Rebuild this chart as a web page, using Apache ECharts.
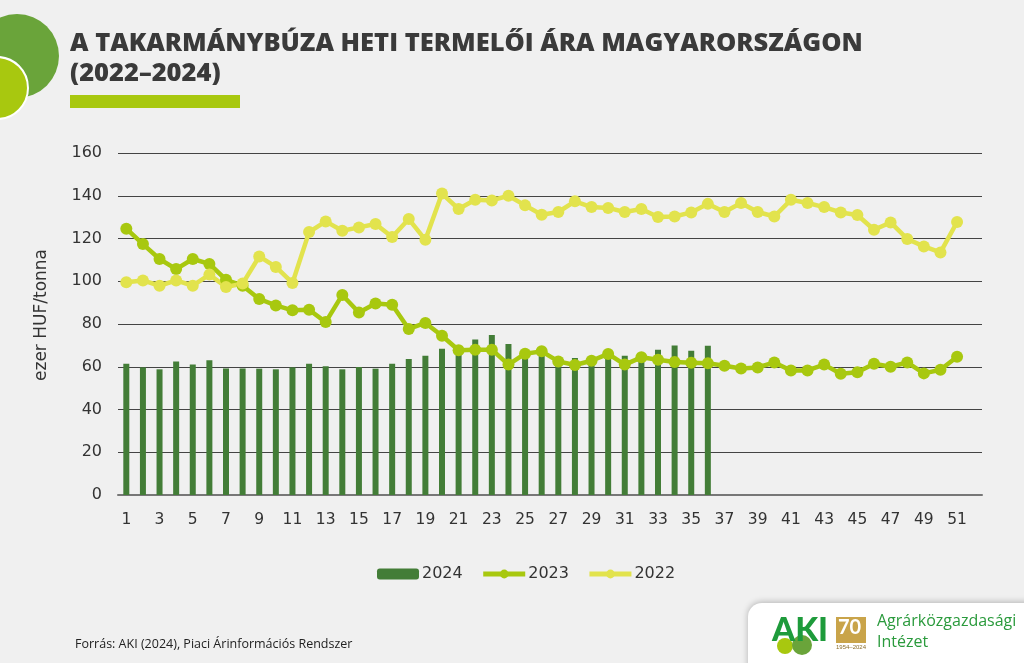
<!DOCTYPE html>
<html>
<head>
<meta charset="utf-8">
<script src="https://cdn.jsdelivr.net/npm/echarts@6/dist/echarts.min.js"></script>
<style>
    html, body { margin: 0; padding: 0; background: #f0f0f0; }
    #chart { width: 1024px; height: 663px; }
</style>
</head>
<body>
<div id="chart"></div>
<script>
// weeks 1..52
let weeks = [];
for (let i = 1; i <= 52; i++) weeks.push(String(i));

let bars2024 = [61.4, 59.7, 58.8, 62.4, 61.0, 63.0, 59.2, 59.2, 59.1, 58.8,
    59.7, 61.4, 60.2, 58.8, 59.9, 59.1, 61.4, 63.6, 65.2, 68.4,
    67.0, 72.7, 74.9, 70.6, 65.0, 66.0, 63.0, 64.1, 62.0, 64.0,
    65.2, 63.0, 68.0, 69.9, 67.5, 69.8];

let line2023 = [124.6, 117.4, 110.4, 105.7, 110.4, 108.1, 100.7, 97.9, 91.7, 88.7,
    86.4, 86.7, 80.9, 93.6, 85.4, 89.6, 89.0, 77.7, 80.5, 74.5,
    67.7, 68.0, 68.0, 61.0, 66.1, 67.2, 62.5, 60.8, 62.8, 66.0,
    61.0, 64.4, 63.3, 62.2, 61.9, 61.6, 60.5, 59.2, 59.7, 62.0,
    58.2, 58.3, 61.0, 56.7, 57.4, 61.4, 60.0, 62.0, 56.9, 58.6,
    64.7];

let line2022 = [99.5, 100.4, 97.9, 100.4, 97.9, 103.1, 97.3, 98.9, 111.6, 106.7,
    99.2, 123.0, 128.0, 123.6, 125.2, 126.8, 120.7, 129.1, 119.4, 141.0,
    133.8, 138.1, 137.8, 140.0, 135.5, 131.1, 132.4, 137.4, 134.7, 134.3,
    132.4, 133.8, 130.1, 130.3, 132.2, 136.2, 132.4, 136.6, 132.4, 130.3,
    138.1, 136.6, 134.7, 132.2, 131.0, 124.1, 127.5, 119.8, 116.3, 113.5,
    127.7];

let chart = echarts.init(document.getElementById("chart"));

let labelFont = "'DejaVu Sans', sans-serif";

let option = {
    backgroundColor: "#f0f0f0",
    animation: false,
    color: ["#437d37", "#a8c80f", "#e2e34d"],
    grid: {
        left: 118,
        right: 42,
        top: 153,
        bottom: 168,
    },
    legend: {
        bottom: 76,
        left: 372,
        itemGap: 18,
        itemWidth: 42,
        itemHeight: 11,
        lineStyle: { width: 5 },
        textStyle: {
            fontFamily: labelFont,
            fontSize: 16,
            color: "#333",
            padding: [0, 0, 0, -2],
        },
        data: ["2024", "2023", "2022"],
    },
    xAxis: {
        type: "category",
        data: weeks,
        axisLine: {
            lineStyle: { color: "#777", width: 2 },
        },
        axisTick: { show: false },
        axisLabel: {
            interval: 1,
            color: "#333",
            fontFamily: labelFont,
            fontSize: 15.5,
            margin: 17,
        },
    },
    yAxis: {
        type: "value",
        min: 0,
        max: 160,
        interval: 20,
        name: "ezer HUF/tonna",
        nameLocation: "middle",
        nameGap: 68,
        nameTextStyle: {
            fontFamily: labelFont,
            fontSize: 17,
            color: "#333",
            padding: [0, 0, 0, 18],
        },
        axisLine: { show: false },
        axisTick: { show: false },
        axisLabel: {
            color: "#333",
            fontFamily: labelFont,
            fontSize: 16,
            margin: 16,
        },
        splitLine: {
            lineStyle: { color: "#444", width: 1 },
        },
    },
    series: [
        {
            name: "2024",
            type: "bar",
            data: bars2024,
            barWidth: 6,
            itemStyle: { color: "#437d37" },
        },
        {
            name: "2023",
            type: "line",
            data: line2023,
            symbol: "circle",
            symbolSize: 12,
            showAllSymbol: true,
            lineStyle: { width: 4.5, color: "#a8c80f" },
            itemStyle: { color: "#a8c80f" },
        },
        {
            name: "2022",
            type: "line",
            data: line2022,
            symbol: "circle",
            symbolSize: 12,
            showAllSymbol: true,
            lineStyle: { width: 4.5, color: "#e2e34d" },
            itemStyle: { color: "#e2e34d" },
        },
    ],
    graphic: [
        // corner circles
        { type: "circle", shape: { cx: 17, cy: 56, r: 42 }, style: { fill: "#6aa43a" }, z: 1 },
        { type: "circle", shape: { cx: -3, cy: 88, r: 31 }, style: { fill: "#a8c80f", stroke: "#ffffff", lineWidth: 2 }, z: 2 },
        // title
        {
            type: "text", left: 70, top: 29, z: 3,
            style: {
                text: "A TAKARMÁNYBÚZA HETI TERMELŐI ÁRA MAGYARORSZÁGON\n(2022–2024)",
                fill: "#3a3a3a",
                font: "800 25.5px 'Open Sans', sans-serif",
                lineHeight: 30,
            },
        },
        { type: "rect", shape: { x: 70, y: 95, width: 170, height: 13 }, style: { fill: "#a8c80f" }, z: 3 },
        // source
        {
            type: "text", left: 75, top: 638, z: 3,
            style: {
                text: "Forrás: AKI (2024), Piaci Árinformációs Rendszer",
                fill: "#222",
                font: "12.5px 'Open Sans', sans-serif",
            },
        },
        // logo panel
        {
            type: "rect", z: 3,
            shape: { x: 748, y: 603, width: 290, height: 70, r: [14, 0, 0, 0] },
            style: { fill: "#ffffff", shadowBlur: 6, shadowColor: "rgba(0,0,0,0.25)", shadowOffsetY: -1 },
        },
        { type: "circle", z: 4, shape: { cx: 785, cy: 646, r: 8 }, style: { fill: "#a8c80f" } },
        { type: "circle", z: 4, shape: { cx: 802, cy: 645, r: 10 }, style: { fill: "#6aa43a" } },
        {
            type: "text", z: 5, left: 772, top: 614,
            style: { text: "AKI", fill: "#1e9b3b", font: "900 33px Lato, sans-serif" },
        },
        { type: "rect", z: 4, shape: { x: 836, y: 617, width: 30, height: 26 }, style: { fill: "#c9a44a" } },
        {
            type: "text", z: 5, left: 838, top: 618,
            style: { text: "70", fill: "#ffffff", font: "bold 20px Lato, sans-serif" },
        },
        {
            type: "text", z: 5, left: 836, top: 644,
            style: { text: "1954–2024", fill: "#8a6d2a", font: "6px sans-serif" },
        },
        {
            type: "text", z: 5, left: 877, top: 611,
            style: { text: "Agrárközgazdasági\nIntézet", fill: "#2a9a3c", font: "16px 'Open Sans', sans-serif", lineHeight: 21 },
        },
    ],
};

chart.setOption(option);
</script>
</body>
</html>
